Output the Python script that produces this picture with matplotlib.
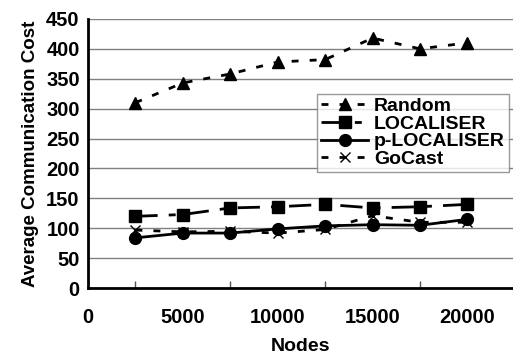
"""Average communication cost versus number of nodes."""
from matplotlib import pyplot as plt

nodes = [2500, 5000, 7500, 10000, 12500, 15000, 17500, 20000]
random_cost = [310, 343, 358, 378, 382, 418, 400, 410]
localiser_cost = [120, 123, 134, 136, 140, 134, 136, 140]
p_localiser_cost = [84, 92, 92, 99, 104, 106, 105, 115]
gocast_cost = [97, 94, 95, 92, 98, 121, 110, 110]

x_labels = [0, 5000, 10000, 15000, 20000]
y_labels = list(range(0, 451, 50))

plt.rcParams['font.family'] = ['Liberation Sans', 'DejaVu Sans']
plt.rcParams['font.weight'] = 'bold'

fig = plt.figure(figsize=(5.13, 3.57), dpi=100)
ax = fig.add_axes([0.1715, 0.193, 0.8285, 0.754])

ax.plot(nodes, random_cost, color='black', lw=2, dashes=(2.5, 4),
        marker='^', ms=9, label='Random')
ax.plot(nodes, localiser_cost, color='black', lw=2, dashes=(8, 4, 2.5, 4),
        marker='s', ms=9, label='LOCALISER')
ax.plot(nodes, p_localiser_cost, color='black', lw=2, linestyle='-',
        marker='o', ms=8.5, label='p-LOCALISER')
ax.plot(nodes, gocast_cost, color='black', lw=2, dashes=(2.5, 4),
        marker='x', ms=7, mew=1, label='GoCast')

ax.set_xlim(0, 22400)
ax.set_ylim(0, 450)
ax.set_yticks(y_labels)
ax.set_xticks(x_labels)
ax.set_xticks(nodes, minor=True)
ax.tick_params(axis='y', length=0, labelsize=14.5, pad=6)
ax.tick_params(axis='x', which='major', length=0, labelsize=14.5, pad=14)
ax.tick_params(axis='x', which='minor', direction='in', length=5,
               width=1, color='#555555')
ax.grid(axis='y', color='#808080', lw=1)
ax.set_axisbelow(True)

for side in ('top', 'right'):
    ax.spines[side].set_visible(False)
for side in ('left', 'bottom'):
    ax.spines[side].set_linewidth(2)

ax.set_xlabel('Nodes', fontsize=14, fontweight='bold', labelpad=8)
ax.set_ylabel('Average Communication Cost', fontsize=13.5, fontweight='bold',
              labelpad=5)

leg = ax.legend(loc='upper left', bbox_to_anchor=(0.54, 0.722), fontsize=14,
                frameon=True, fancybox=False, handlelength=2.4,
                handletextpad=0.3, labelspacing=0.0, borderpad=0.2,
                borderaxespad=0)
leg.get_frame().set_edgecolor('#808080')
leg.get_frame().set_linewidth(1)
for text in leg.get_texts():
    text.set_fontweight('bold')

fig.savefig('out.png', dpi=100)
